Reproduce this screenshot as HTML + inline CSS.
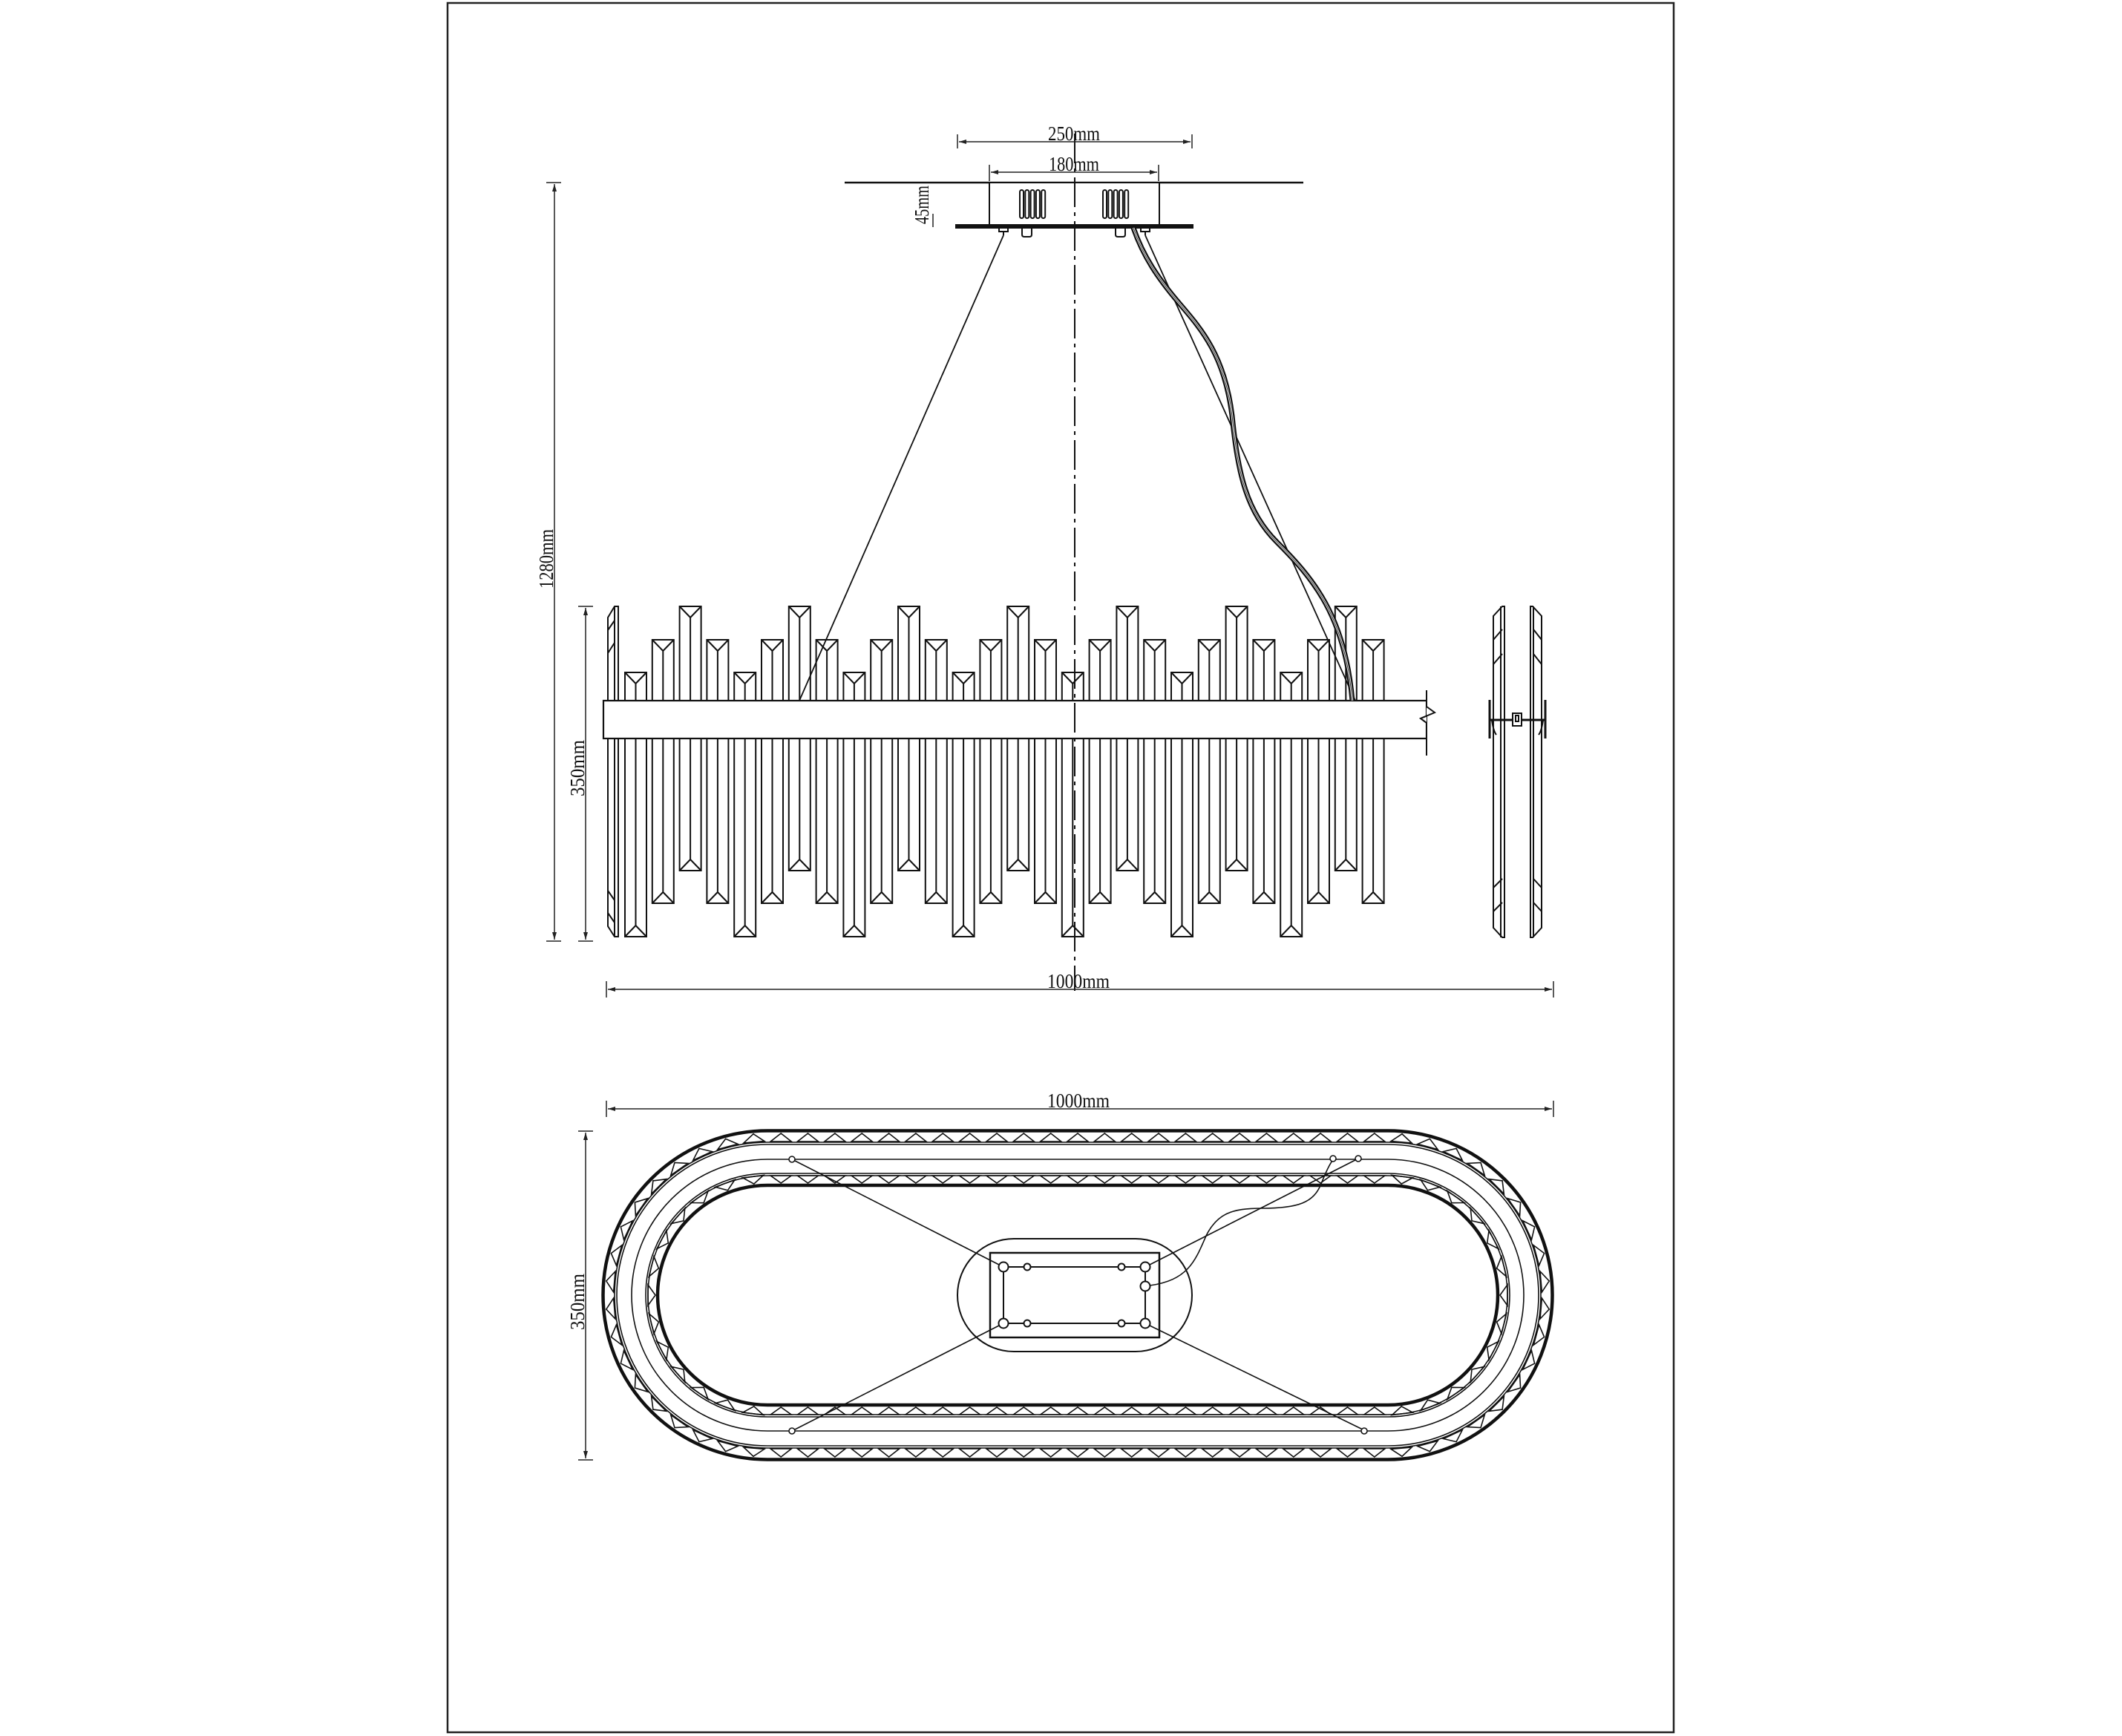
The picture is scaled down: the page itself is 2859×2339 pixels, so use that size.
<!DOCTYPE html>
<html><head><meta charset="utf-8"><style>
html,body{margin:0;padding:0;background:#fff}
svg{display:block}
text{font-family:"Liberation Serif",serif;font-size:27px;fill:#111}
</style></head><body>
<svg id="s" width="2859" height="2339" viewBox="0 0 2859 2339" xmlns="http://www.w3.org/2000/svg">
<defs>
<marker id="ar" viewBox="0 0 10 6" refX="10" refY="3" markerWidth="10" markerHeight="6" markerUnits="userSpaceOnUse" orient="auto-start-reverse"><path d="M0,0 L10,3 L0,6 Z" fill="#222"/></marker>
</defs>
<rect x="0" y="0" width="2859" height="2339" fill="#fff"/>
<rect x="603" y="4" width="1652" height="2330" fill="none" stroke="#222" stroke-width="2.5"/>

<g id="rods" stroke="#111" stroke-width="2" fill="#fff"></g>

<!-- side plate in main view -->
<g stroke="#111" stroke-width="2" fill="none">
<path d="M828,817 L833,817 L833,1262 L828,1262 L819,1248 L819,832 Z" fill="#fff"/>
<line x1="828" y1="817" x2="828" y2="1262"/>
<path d="M819,849 L828,836 M819,880 L828,866 M819,1200 L828,1213 M819,1230 L828,1243"/>
</g>

<!-- bar -->
<rect x="813" y="944" width="1109" height="51" fill="#fff" stroke="#111" stroke-width="2.2"/>
<path d="M1922,930 L1922,952 L1933,960 L1914,968 L1922,974 L1922,1018" fill="#fff" stroke="#111" stroke-width="2"/>
<rect x="1923" y="940" width="30" height="60" fill="#fff"/>
<path d="M1922,930 L1922,952 L1933,960 L1914,968 L1922,974 L1922,1018" fill="none" stroke="#111" stroke-width="2"/>

<!-- canopy -->
<g stroke="#111" stroke-width="2" fill="none">
<line x1="1138" y1="246" x2="1756" y2="246" stroke-width="2.5"/>
<rect x="1333" y="246" width="229" height="57" fill="#fff"/>
<rect x="1288" y="303" width="319" height="4" fill="#111"/>
<g id="slots"></g>
<path d="M1377,307 L1377,316 Q1377,319 1380,319 L1387,319 Q1390,319 1390,316 L1390,307"/>
<path d="M1503,307 L1503,316 Q1503,319 1506,319 L1513,319 Q1516,319 1516,316 L1516,307"/>
<rect x="1346" y="307" width="12" height="5"/><line x1="1352" y1="312" x2="1352" y2="317"/>
<rect x="1537" y="307" width="12" height="5"/><line x1="1543" y1="312" x2="1543" y2="317"/>
<line x1="1352" y1="317" x2="1077" y2="944" stroke-width="1.8"/>
<line x1="1543" y1="317" x2="1826" y2="944" stroke-width="1.8"/>
<path id="wire" d="M1527,307 C1540,345 1560,375 1590,410 C1620,445 1650,480 1660,560 C1668,640 1680,690 1720,730 C1770,780 1812,830 1822,944" stroke="#111" stroke-width="7"/>
<path d="M1527,307 C1540,345 1560,375 1590,410 C1620,445 1650,480 1660,560 C1668,640 1680,690 1720,730 C1770,780 1812,830 1822,944" stroke="#fff" stroke-width="2.5"/>
<path d="M1527,307 C1540,345 1560,375 1590,410 C1620,445 1650,480 1660,560 C1668,640 1680,690 1720,730 C1770,780 1812,830 1822,944" stroke="#111" stroke-width="0.8"/>
</g>

<!-- side view -->
<g stroke="#111" stroke-width="2" fill="none">
<path d="M2024,817 L2027,817 L2027,1263 L2024,1263 L2012,1250 L2012,830 Z"/>
<line x1="2022" y1="817" x2="2022" y2="1263"/>
<path d="M2012,862 L2024,848 M2012,895 L2024,881 M2012,1196 L2024,1184 M2012,1228 L2024,1216"/>
<path d="M2065,817 L2062,817 L2062,1263 L2065,1263 L2077,1250 L2077,830 Z"/>
<line x1="2066" y1="817" x2="2066" y2="1263"/>
<path d="M2077,862 L2066,848 M2077,895 L2066,881 M2077,1196 L2066,1184 M2077,1228 L2066,1216"/>
<line x1="2007" y1="970" x2="2082" y2="970" stroke-width="3"/>
<line x1="2007" y1="943" x2="2007" y2="995" stroke-width="3"/>
<line x1="2082" y1="943" x2="2082" y2="995" stroke-width="3"/>
<path d="M2010,970 Q2012,985 2016,990 M2079,970 Q2077,985 2073,990"/>
<rect x="2038" y="961" width="12" height="17" fill="#fff"/>
<rect x="2042" y="964" width="4" height="8"/>
</g>

<!-- center line -->
<line x1="1448" y1="180" x2="1448" y2="1335" stroke="#111" stroke-width="2" stroke-dasharray="40 7 5 7"/>

<!-- dimensions top -->
<g stroke="#222" stroke-width="1.5" fill="none">
<line x1="1292" y1="191" x2="1604" y2="191" marker-start="url(#ar)" marker-end="url(#ar)"/>
<line x1="1290" y1="181" x2="1290" y2="200"/><line x1="1606" y1="181" x2="1606" y2="200"/>
<line x1="1335" y1="232" x2="1559" y2="232" marker-start="url(#ar)" marker-end="url(#ar)"/>
<line x1="1333" y1="222" x2="1333" y2="244"/><line x1="1561" y1="222" x2="1561" y2="244"/>
<line x1="1257" y1="288" x2="1257" y2="306"/>
<line x1="747" y1="248" x2="747" y2="1266" marker-start="url(#ar)" marker-end="url(#ar)"/>
<line x1="736" y1="246" x2="756" y2="246"/><line x1="736" y1="1268" x2="756" y2="1268"/>
<line x1="789" y1="819" x2="789" y2="1266" marker-start="url(#ar)" marker-end="url(#ar)"/>
<line x1="779" y1="817" x2="799" y2="817"/><line x1="779" y1="1268" x2="799" y2="1268"/>
<line x1="819" y1="1333" x2="2091" y2="1333" marker-start="url(#ar)" marker-end="url(#ar)"/>
<line x1="817" y1="1322" x2="817" y2="1344"/><line x1="2093" y1="1322" x2="2093" y2="1344"/>
<line x1="819" y1="1494" x2="2091" y2="1494" marker-start="url(#ar)" marker-end="url(#ar)"/>
<line x1="817" y1="1483" x2="817" y2="1505"/><line x1="2093" y1="1483" x2="2093" y2="1505"/>
<line x1="789" y1="1526" x2="789" y2="1965" marker-start="url(#ar)" marker-end="url(#ar)"/>
<line x1="779" y1="1524" x2="799" y2="1524"/><line x1="779" y1="1967" x2="799" y2="1967"/>
</g>
<g>
<text x="1447" y="189" text-anchor="middle" textLength="70" lengthAdjust="spacingAndGlyphs">250mm</text>
<text x="1447" y="230" text-anchor="middle" textLength="68" lengthAdjust="spacingAndGlyphs">180mm</text>
<text transform="translate(1251,276) rotate(-90)" text-anchor="middle" textLength="52" lengthAdjust="spacingAndGlyphs">45mm</text>
<text transform="translate(745,753) rotate(-90)" text-anchor="middle" textLength="80" lengthAdjust="spacingAndGlyphs">1280mm</text>
<text transform="translate(787,1035) rotate(-90)" text-anchor="middle" textLength="76" lengthAdjust="spacingAndGlyphs">350mm</text>
<text x="1453" y="1331" text-anchor="middle" textLength="84" lengthAdjust="spacingAndGlyphs">1000mm</text>
<text x="1453" y="1492" text-anchor="middle" textLength="84" lengthAdjust="spacingAndGlyphs">1000mm</text>
<text transform="translate(787,1754) rotate(-90)" text-anchor="middle" textLength="76" lengthAdjust="spacingAndGlyphs">350mm</text>
</g>

<!-- bottom view -->
<g id="oval" stroke="#111" fill="none"></g>
<g stroke="#111" stroke-width="2" fill="none">
<rect x="1290" y="1669" width="316" height="152" rx="76" ry="76"/>
<rect x="1334" y="1688" width="228" height="114" stroke-width="2.5"/>
<rect x="1352" y="1707" width="191" height="76"/>
<g fill="#fff">
<circle cx="1352" cy="1707" r="6.5"/><circle cx="1543" cy="1707" r="6.5"/>
<circle cx="1352" cy="1783" r="6.5"/><circle cx="1543" cy="1783" r="6.5"/>
<circle cx="1543" cy="1733" r="6.5"/>
<circle cx="1384" cy="1707" r="4.5"/><circle cx="1511" cy="1707" r="4.5"/>
<circle cx="1384" cy="1783" r="4.5"/><circle cx="1511" cy="1783" r="4.5"/>
</g>
<g stroke-width="1.6">
<line x1="1346" y1="1704" x2="1071" y2="1564"/>
<line x1="1346" y1="1786" x2="1071" y2="1926"/>
<line x1="1549" y1="1704" x2="1826" y2="1563"/>
<line x1="1549" y1="1786" x2="1836" y2="1926"/>
<path d="M1549,1732 C1600,1725 1610,1700 1625,1665 C1640,1635 1660,1628 1700,1628 C1750,1628 1770,1620 1780,1595 C1788,1575 1792,1568 1795,1564"/>
</g>
<g fill="#fff" stroke-width="1.6">
<circle cx="1067" cy="1562" r="4"/><circle cx="1067" cy="1928" r="4"/>
<circle cx="1796" cy="1561" r="4"/><circle cx="1830" cy="1561" r="4"/>
<circle cx="1838" cy="1928" r="4"/>
</g>
</g>
</svg>
<script>
(function(){
var NS="http://www.w3.org/2000/svg";
function el(p,n,a){var e=document.createElementNS(NS,n);for(var k in a)e.setAttribute(k,a[k]);p.appendChild(e);return e;}
// rods
var g=document.getElementById('rods');
var types=[[906,1262],[862,1217],[817,1173],[862,1217]];
for(var i=0;i<28;i++){
 var x=842+36.8*i,w=29,t=types[i%4],c=x+w/2,d=15;
 el(g,'rect',{x:x,y:t[0],width:w,height:t[1]-t[0]});
 el(g,'path',{d:'M'+x+','+t[0]+' L'+c+','+(t[0]+d)+' L'+(x+w)+','+t[0]+' M'+c+','+(t[0]+d)+' L'+c+','+(t[1]-d)+' M'+x+','+t[1]+' L'+c+','+(t[1]-d)+' L'+(x+w)+','+t[1],fill:'none'});
}
// slots
var sg=document.getElementById('slots');
[1374,1486].forEach(function(x0){for(var j=0;j<5;j++){el(sg,'rect',{x:x0+j*7.3,y:256,width:5,height:38,rx:2.5,ry:2.5});}});
// oval
var o=document.getElementById('oval');
var cy=1745,L=1034,R=1870,D=R-L;
function st(r){return 'M'+L+','+(cy-r)+' H'+R+' A'+r+','+r+' 0 0 1 '+R+','+(cy+r)+' H'+L+' A'+r+','+r+' 0 0 1 '+L+','+(cy-r)+' Z';}
[[221.5,4.5],[206,1.6],[203,1.6],[183,1.6],[164,1.6],[161,1.6],[148,4.5]].forEach(function(a){el(o,'path',{d:st(a[0]),'stroke-width':a[1]});});
function P(seg,u,r){ // returns [x,y,nx,ny]
 if(seg==0){return [L+u*D,cy-r,0,-1];}
 if(seg==1){var th=-Math.PI/2+u*Math.PI;return [R+r*Math.cos(th),cy+r*Math.sin(th),Math.cos(th),Math.sin(th)];}
 if(seg==2){return [R-u*D,cy+r,0,1];}
 var th=Math.PI/2+u*Math.PI;return [L+r*Math.cos(th),cy+r*Math.sin(th),Math.cos(th),Math.sin(th)];
}
function band(rb,ra,rm,hw){
 var segs=[[0,Math.round(D/37)],[1,Math.round(Math.PI*rm/37)],[2,Math.round(D/37)],[3,Math.round(Math.PI*rm/37)]];
 var d='';
 segs.forEach(function(s){for(var k=0;k<s[1];k++){var u=(k+0.5)/s[1];
  var b=P(s[0],u,rb),a=P(s[0],u,ra);var tx=-b[3],ty=b[2];
  d+='M'+(b[0]+tx*hw).toFixed(1)+','+(b[1]+ty*hw).toFixed(1)+' L'+a[0].toFixed(1)+','+a[1].toFixed(1)+' L'+(b[0]-tx*hw).toFixed(1)+','+(b[1]-ty*hw).toFixed(1)+' Z ';}});
 el(o,'path',{d:d,'stroke-width':1.6});
}
band(207,218,212,14);
band(161,151,157,14);
})();
</script>
</body></html>
